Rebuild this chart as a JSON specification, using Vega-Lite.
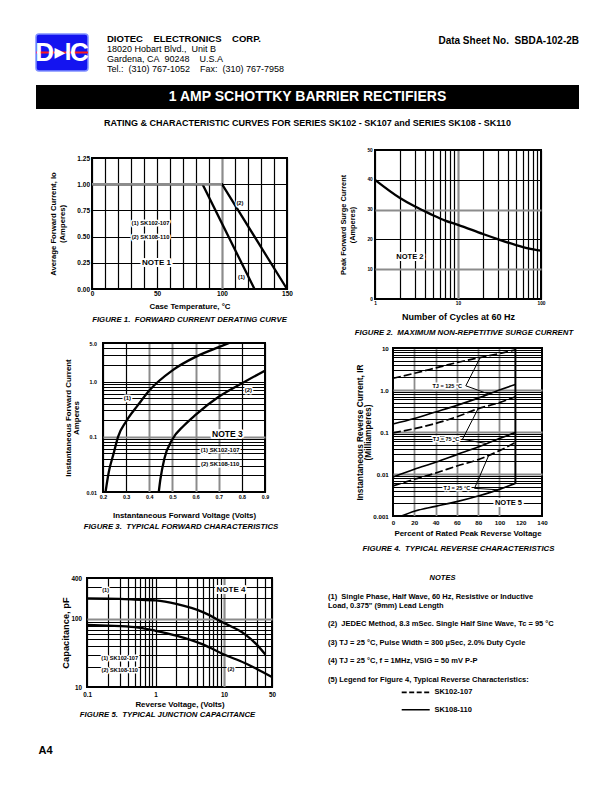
{
"$schema": "https://vega.github.io/schema/vega-lite/v6.json",
"background": "white",
"padding": {"left": 34, "top": 33, "right": 0, "bottom": 0},
"config": {
  "font": "Liberation Sans",
  "view": {"stroke": null},
  "concat": {"spacing": 0},
  "axis": {"domain": false, "ticks": false, "labelFont": "Liberation Sans", "labelFontWeight": "bold", "labelColor": "black", "titleFont": "Liberation Sans", "titleFontWeight": "bold", "titleColor": "black", "grid": true, "gridColor": "black", "gridWidth": 1.2, "gridOpacity": 1, "labelOverlap": false, "labelFlush": false, "labelBound": false},
  "title": {"font": "Liberation Sans", "color": "black"},
  "text": {"font": "Liberation Sans", "color": "black"},
  "legend": {"padding": 0}
},
"spacing": 0,
"resolve": {"scale": {"strokeDash": "independent"}, "legend": {"strokeDash": "independent"}},
"vconcat": [
  {"spacing": 17, "hconcat": [
    {"width": 52, "height": 37, "view": {"fill": "#1414f0", "stroke": "#8090ff", "strokeWidth": 1.5, "cornerRadius": 3},
     "layer": [
      {"data": {"values": [{"k": 1}]}, "mark": {"type": "rule", "color": "#ff1a1a", "strokeWidth": 2}, "encoding": {"y": {"datum": 0.5, "type": "quantitative", "scale": {"domain": [0, 1]}, "axis": null}}},
      {"data": {"values": [{"slot": "a", "t": "D"}, {"slot": "c", "t": "C"}]}, "mark": {"type": "text", "color": "white", "fontSize": 26, "fontWeight": "bold"}, "encoding": {"x": {"field": "slot", "type": "ordinal", "scale": {"domain": ["a", "b", "c"]}, "axis": null}, "text": {"field": "t"}}},
      {"data": {"values": [{"slot": "b", "t": "▶"}]}, "mark": {"type": "text", "color": "white", "fontSize": 14, "font": "DejaVu Sans", "dx": -2}, "encoding": {"x": {"field": "slot", "type": "ordinal", "axis": null}, "text": {"field": "t"}}},
      {"data": {"values": [{"slot": "b", "t": "I"}]}, "mark": {"type": "text", "color": "white", "fontSize": 24, "fontWeight": "bold", "dx": 6}, "encoding": {"x": {"field": "slot", "type": "ordinal", "axis": null}, "text": {"field": "t"}}}
     ]},
    {"width": 250, "height": 40,
     "data": {"values": [
       {"line": 0, "text": "DIOTEC\u00a0\u00a0\u00a0\u00a0ELECTRONICS\u00a0\u00a0\u00a0\u00a0CORP."},
       {"line": 1, "text": "18020 Hobart Blvd.,\u00a0 Unit B"},
       {"line": 2, "text": "Gardena, CA\u00a0 90248\u00a0\u00a0\u00a0 U.S.A"},
       {"line": 3, "text": "Tel.:\u00a0 (310) 767-1052\u00a0\u00a0\u00a0 Fax:\u00a0 (310) 767-7958"}]},
     "encoding": {"y": {"field": "line", "type": "ordinal", "axis": null}, "x": {"value": 0}, "text": {"field": "text"}},
     "layer": [
       {"transform": [{"filter": "datum.line == 0"}], "mark": {"type": "text", "align": "left", "fontSize": 9.5, "fontWeight": "bold"}},
       {"transform": [{"filter": "datum.line > 0"}], "mark": {"type": "text", "align": "left", "fontSize": 9}}
     ]},
    {"width": 205, "height": 14, "data": {"values": [{"t": "Data Sheet No.\u00a0 SBDA-102-2B"}]},
     "mark": {"type": "text", "align": "right", "fontSize": 10, "fontWeight": "bold"},
     "encoding": {"x": {"value": "width"}, "text": {"field": "t"}}}
  ]},
  {"width": 1, "height": 11, "mark": "rect", "data": {"values": []}},
  {"width": 543, "height": 24, "view": {"fill": "black", "stroke": null},
   "title": {"text": "RATING & CHARACTERISTIC CURVES FOR SERIES SK102 - SK107 and SERIES SK108 - SK110", "orient": "bottom", "anchor": "middle", "baseline": "top", "offset": 9.65, "fontSize": 9, "fontWeight": "bold"},
   "data": {"values": [{"t": "1 AMP SCHOTTKY BARRIER RECTIFIERS"}]},
   "mark": {"type": "text", "color": "white", "fontSize": 14, "fontWeight": "bold"},
   "encoding": {"text": {"field": "t"}}},
  {"width": 1, "height": 17.95, "mark": "rect", "data": {"values": []}},
  {"spacing": 0, "hconcat": [
    {"width": 11.7, "height": 1, "mark": "rect", "data": {"values": []}},
    {"spacing": 0, "vconcat": [
      {"width": 1, "height": 3.75, "mark": "rect", "data": {"values": []}},
      {"width": 195, "height": 131, "view": {"stroke": "black", "strokeWidth": 2},
       "title": {"text": "FIGURE 1.\u00a0 FORWARD CURRENT DERATING CURVE", "orient": "bottom", "anchor": "middle", "baseline": "top", "offset": 5.5, "fontSize": 7.8, "fontWeight": "bold", "fontStyle": "italic"},
       "encoding": {
         "x": {"field": "temp", "type": "quantitative", "scale": {"domain": [0, 150], "nice": false, "zero": false},
               "axis": {"title": "Case Temperature, °C", "values": [0,10,20,30,40,50,60,70,80,90,100,110,120,130,140,150], "labelExpr": "datum.value % 50 == 0 ? datum.label : ''", "labelFontSize": 6.5, "labelPadding": 1.2, "titleFontSize": 7.85, "titlePadding": 6.2,
                        "gridColor": {"condition": {"test": "datum.value == 100", "value": "#8c8c8c"}, "value": "black"},
                        "gridWidth": {"condition": {"test": "datum.value == 100", "value": 2.2}, "value": 1.2}}},
         "y": {"field": "io", "type": "quantitative", "scale": {"domain": [0, 1.25], "nice": false},
               "axis": {"title": ["Average Forward Current, Io", "(Amperes)"], "values": [0, 0.25, 0.5, 0.75, 1, 1.25], "format": ".2f", "labelFontSize": 6.5, "labelPadding": 2.5, "titleFontSize": 7.7, "titleLineHeight": 8.4, "titlePadding": 10.5}}
       },
       "layer": [
         {"data": {"values": [
           {"series": "(1)", "temp": 0, "io": 1}, {"series": "(1)", "temp": 85, "io": 1}, {"series": "(1)", "temp": 125, "io": 0},
           {"series": "(2)", "temp": 0, "io": 1}, {"series": "(2)", "temp": 100, "io": 1}, {"series": "(2)", "temp": 150, "io": 0}]},
          "mark": {"type": "line", "color": "black", "strokeWidth": 2.3}, "encoding": {"detail": {"field": "series"}}},
         {"data": {"values": [{"temp": 0, "io": 1}, {"temp": 100, "io": 1}]},
          "mark": {"type": "line", "color": "#8c8c8c", "strokeWidth": 2.4}},
         {"data": {"values": [
           {"label": "(1) SK102-107", "temp": 45, "io": 0.627, "kind": "small"},
           {"label": "(2) SK108-110", "temp": 45, "io": 0.5, "kind": "small"},
           {"label": "NOTE 1", "temp": 49.6, "io": 0.25, "kind": "note"},
           {"label": "(2)", "temp": 113.8, "io": 0.823, "kind": "small"},
           {"label": "(1)", "temp": 115, "io": 0.115, "kind": "small"}]},
          "layer": [
           {"transform": [{"filter": "datum.kind == 'small'"}], "mark": {"type": "text", "fontSize": 5.8, "fontWeight": "bold", "color": "white", "stroke": "white", "strokeWidth": 3, "strokeJoin": "round"}, "encoding": {"text": {"field": "label"}}},
           {"transform": [{"filter": "datum.kind == 'small'"}], "mark": {"type": "text", "fontSize": 5.8, "fontWeight": "bold", "color": "black"}, "encoding": {"text": {"field": "label"}}},
           {"transform": [{"filter": "datum.kind == 'note'"}], "mark": {"type": "text", "fontSize": 8, "fontWeight": "bold", "color": "white", "stroke": "white", "strokeWidth": 4, "strokeJoin": "round"}, "encoding": {"text": {"field": "label"}}},
           {"transform": [{"filter": "datum.kind == 'note'"}], "mark": {"type": "text", "fontSize": 8, "fontWeight": "bold", "color": "black"}, "encoding": {"text": {"field": "label"}}}
          ]}
       ]}
    ]},
    {"width": 43.2, "height": 1, "mark": "rect", "data": {"values": []}},
    {"width": 166, "height": 149, "view": {"stroke": "black", "strokeWidth": 2},
     "title": {"text": "FIGURE 2.\u00a0 MAXIMUM NON-REPETITIVE SURGE CURRENT", "orient": "bottom", "anchor": "middle", "baseline": "top", "offset": 7.5, "dx": 6, "fontSize": 7.8, "fontWeight": "bold", "fontStyle": "italic"},
     "encoding": {
       "x": {"field": "cycles", "type": "quantitative", "scale": {"type": "log", "domain": [1, 100], "nice": false},
             "axis": {"title": "Number of Cycles at 60 Hz", "values": [1,2,3,4,5,6,7,8,9,10,20,30,40,50,60,70,80,90,100], "labelExpr": "datum.value == 1 ? '1' : datum.value == 10 ? '10' : datum.value == 100 ? '100' : ''", "labelFontSize": 4.8, "labelPadding": 1.55, "titleFontSize": 9, "titlePadding": 6.8,
                      "gridColor": {"condition": {"test": "datum.value == 10", "value": "#8c8c8c"}, "value": "black"},
                      "gridWidth": {"condition": {"test": "datum.value == 10", "value": 2.2}, "value": 1.2}}},
       "y": {"field": "amps", "type": "quantitative", "scale": {"domain": [0, 50], "nice": false},
             "axis": {"title": ["Peak Forward Surge Current", "(Amperes)"], "values": [0, 10, 20, 30, 40, 50], "labelFontSize": 4.8, "labelPadding": 2.7, "titleFontSize": 7.4, "titleLineHeight": 9.3, "titlePadding": 10.5,
                      "gridColor": {"condition": {"test": "datum.value == 10 || datum.value == 30", "value": "#8c8c8c"}, "value": "black"},
                      "gridWidth": {"condition": {"test": "datum.value == 10 || datum.value == 30", "value": 1.8}, "value": 1.2}}}
     },
     "layer": [
       {"data": {"values": [
         {"cycles": 1, "amps": 40}, {"cycles": 2, "amps": 33.9}, {"cycles": 3, "amps": 31.1}, {"cycles": 4, "amps": 29.4},
         {"cycles": 5, "amps": 28.1}, {"cycles": 7, "amps": 26.3}, {"cycles": 10, "amps": 24.9}, {"cycles": 20, "amps": 21.8},
         {"cycles": 30, "amps": 20.1}, {"cycles": 50, "amps": 18.1}, {"cycles": 70, "amps": 17}, {"cycles": 100, "amps": 16.2}]},
        "mark": {"type": "line", "color": "black", "strokeWidth": 2.3, "interpolate": "monotone"}},
       {"data": {"values": [{"label": "NOTE 2", "cycles": 2.63, "amps": 14.1}]},
        "layer": [
          {"mark": {"type": "text", "fontSize": 7.5, "fontWeight": "bold", "color": "white", "stroke": "white", "strokeWidth": 4, "strokeJoin": "round"}, "encoding": {"text": {"field": "label"}}},
          {"mark": {"type": "text", "fontSize": 7.5, "fontWeight": "bold", "color": "black"}, "encoding": {"text": {"field": "label"}}}
        ]}
     ]}
  ]},
  {"width": 1, "height": 1.75, "mark": "rect", "data": {"values": []}},
  {"spacing": 0, "hconcat": [
    {"width": 26.6, "height": 1, "mark": "rect", "data": {"values": []}},
    {"width": 162, "height": 149, "view": {"stroke": "black", "strokeWidth": 2},
     "title": {"text": "FIGURE 3.\u00a0 TYPICAL FORWARD CHARACTERISTICS", "orient": "bottom", "anchor": "middle", "baseline": "top", "offset": 3.86, "dx": -3, "fontSize": 7.8, "fontWeight": "bold", "fontStyle": "italic"},
     "encoding": {
       "x": {"field": "volts", "type": "quantitative", "scale": {"domain": [0.2, 0.9], "nice": false, "zero": false},
             "axis": {"title": "Instantaneous Forward Voltage (Volts)", "values": [0.2,0.3,0.4,0.5,0.6,0.7,0.8,0.9], "format": ".1f", "labelFontSize": 5.3, "labelPadding": 2.7, "titleFontSize": 7.9, "titlePadding": 11.3,
                      "gridColor": {"condition": {"test": "datum.value > 0.35 && datum.value < 0.75", "value": "#8c8c8c"}, "value": "black"},
                      "gridWidth": {"condition": {"test": "datum.value > 0.35 && datum.value < 0.75", "value": 2}, "value": 1.2}}},
       "y": {"field": "amps", "type": "quantitative", "scale": {"type": "log", "domain": [0.01, 5], "nice": false},
             "axis": {"title": ["Instantaneous Forward Current", "Amperes"], "values": [0.01,0.02,0.03,0.04,0.05,0.06,0.07,0.08,0.09,0.1,0.2,0.3,0.4,0.5,0.6,0.7,0.8,0.9,1,2,3,4,5], "labelExpr": "datum.value == 5 ? '5.0' : datum.value == 1 ? '1.0' : datum.value == 0.1 ? '0.1' : datum.value == 0.01 ? '0.01' : ''", "labelFontSize": 5.3, "labelPadding": 6.6, "titleFontSize": 7.9, "titleLineHeight": 8, "titlePadding": 5.2,
                      "gridColor": {"condition": {"test": "datum.value == 0.1", "value": "#8c8c8c"}, "value": "black"},
                      "gridWidth": {"condition": {"test": "datum.value == 0.1", "value": 2}, "value": 1.2}}}
     },
     "layer": [
       {"data": {"values": [
         {"series": "(1)", "volts": 0.211, "amps": 0.01}, {"series": "(1)", "volts": 0.225, "amps": 0.023}, {"series": "(1)", "volts": 0.246, "amps": 0.05},
         {"series": "(1)", "volts": 0.265, "amps": 0.1}, {"series": "(1)", "volts": 0.3, "amps": 0.19}, {"series": "(1)", "volts": 0.35, "amps": 0.37},
         {"series": "(1)", "volts": 0.4, "amps": 0.69}, {"series": "(1)", "volts": 0.5, "amps": 1.6}, {"series": "(1)", "volts": 0.6, "amps": 2.8},
         {"series": "(1)", "volts": 0.7, "amps": 4.2}, {"series": "(1)", "volts": 0.745, "amps": 5},
         {"series": "(2)", "volts": 0.441, "amps": 0.01}, {"series": "(2)", "volts": 0.448, "amps": 0.017}, {"series": "(2)", "volts": 0.465, "amps": 0.04},
         {"series": "(2)", "volts": 0.5, "amps": 0.09}, {"series": "(2)", "volts": 0.55, "amps": 0.16}, {"series": "(2)", "volts": 0.6, "amps": 0.25},
         {"series": "(2)", "volts": 0.7, "amps": 0.53}, {"series": "(2)", "volts": 0.8, "amps": 0.93}, {"series": "(2)", "volts": 0.9, "amps": 1.58}]},
        "mark": {"type": "line", "color": "black", "strokeWidth": 2.3, "interpolate": "monotone", "clip": true}, "encoding": {"detail": {"field": "series"}}},
       {"data": {"values": [
         {"label": "(1)", "volts": 0.305, "amps": 0.51, "kind": "small"},
         {"label": "(2)", "volts": 0.828, "amps": 0.71, "kind": "small"},
         {"label": "NOTE 3", "volts": 0.7376, "amps": 0.112, "kind": "note"},
         {"label": "(1) SK102-107", "volts": 0.706, "amps": 0.0566, "kind": "small"},
         {"label": "(2) SK108-110", "volts": 0.706, "amps": 0.0325, "kind": "small"}]},
        "layer": [
          {"transform": [{"filter": "datum.kind == 'small'"}], "mark": {"type": "text", "fontSize": 5.9, "fontWeight": "bold", "color": "white", "stroke": "white", "strokeWidth": 3, "strokeJoin": "round"}, "encoding": {"text": {"field": "label"}}},
          {"transform": [{"filter": "datum.kind == 'small'"}], "mark": {"type": "text", "fontSize": 5.9, "fontWeight": "bold", "color": "black"}, "encoding": {"text": {"field": "label"}}},
          {"transform": [{"filter": "datum.kind == 'note'"}], "mark": {"type": "text", "fontSize": 8.5, "fontWeight": "bold", "color": "white", "stroke": "white", "strokeWidth": 4, "strokeJoin": "round"}, "encoding": {"text": {"field": "label"}}},
          {"transform": [{"filter": "datum.kind == 'note'"}], "mark": {"type": "text", "fontSize": 8.5, "fontWeight": "bold", "color": "black"}, "encoding": {"text": {"field": "label"}}}
        ]}
     ]},
    {"width": 73.6, "height": 1, "mark": "rect", "data": {"values": []}},
    {"spacing": 0, "vconcat": [
      {"width": 1, "height": 0.1, "mark": "rect", "data": {"values": []}},
      {"width": 149, "height": 168, "view": {"stroke": "black", "strokeWidth": 2},
       "title": {"text": "FIGURE 4.\u00a0 TYPICAL REVERSE CHARACTERISTICS", "orient": "bottom", "anchor": "middle", "baseline": "top", "offset": 8.1, "dx": -9, "fontSize": 7.8, "fontWeight": "bold", "fontStyle": "italic"},
       "encoding": {
         "x": {"field": "pct", "type": "quantitative", "scale": {"domain": [0, 140], "nice": false, "zero": false},
               "axis": {"title": "Percent of Rated Peak Reverse Voltage", "values": [0,20,40,60,80,100,120,140], "labelFontSize": 6.2, "labelPadding": 3.35, "titleFontSize": 7.95, "titlePadding": 3.65,
                        "gridColor": {"condition": {"test": "datum.value == 0 || datum.value >= 120", "value": "transparent"}, "value": "#8c8c8c"},
                        "gridWidth": 1.8}},
         "y": {"field": "ir", "type": "quantitative", "scale": {"type": "log", "domain": [0.001, 10], "nice": false},
               "axis": {"title": ["Instantaneous Reverse Current, IR", "(Milliamperes)"], "values": [0.001,0.002,0.003,0.004,0.005,0.006,0.007,0.008,0.009,0.01,0.02,0.03,0.04,0.05,0.06,0.07,0.08,0.09,0.1,0.2,0.3,0.4,0.5,0.6,0.7,0.8,0.9,1,2,3,4,5,6,7,8,9,10], "labelExpr": "datum.value == 10 ? '10' : datum.value == 1 ? '1.0' : datum.value == 0.1 ? '0.1' : datum.value == 0.01 ? '0.01' : datum.value == 0.001 ? '0.001' : ''", "labelFontSize": 6.2, "labelPadding": 4.7, "titleFontSize": 8.3, "titleLineHeight": 8.7, "titlePadding": 0,
                        "gridColor": {"condition": {"test": "datum.value == 0.01 || datum.value == 0.1 || datum.value == 1", "value": "#8c8c8c"}, "value": "black"},
                        "gridWidth": {"condition": {"test": "datum.value == 0.01 || datum.value == 0.1 || datum.value == 1", "value": 1.8}, "value": 1}}}
       },
       "layer": [
         {"data": {"values": [
           {"curve": "d125", "kind": "SK102-107", "pct": 0, "ir": 1.9}, {"curve": "d125", "kind": "SK102-107", "pct": 20, "ir": 2.5}, {"curve": "d125", "kind": "SK102-107", "pct": 40, "ir": 3.35}, {"curve": "d125", "kind": "SK102-107", "pct": 60, "ir": 4.5}, {"curve": "d125", "kind": "SK102-107", "pct": 80, "ir": 5.8}, {"curve": "d125", "kind": "SK102-107", "pct": 100, "ir": 7.4}, {"curve": "d125", "kind": "SK102-107", "pct": 115, "ir": 9},
           {"curve": "s125", "kind": "SK108-110", "pct": 0, "ir": 0.155}, {"curve": "s125", "kind": "SK108-110", "pct": 20, "ir": 0.21}, {"curve": "s125", "kind": "SK108-110", "pct": 40, "ir": 0.3}, {"curve": "s125", "kind": "SK108-110", "pct": 60, "ir": 0.43}, {"curve": "s125", "kind": "SK108-110", "pct": 80, "ir": 0.64}, {"curve": "s125", "kind": "SK108-110", "pct": 100, "ir": 1}, {"curve": "s125", "kind": "SK108-110", "pct": 115, "ir": 1.35},
           {"curve": "d75", "kind": "SK102-107", "pct": 0, "ir": 0.095}, {"curve": "d75", "kind": "SK102-107", "pct": 20, "ir": 0.12}, {"curve": "d75", "kind": "SK102-107", "pct": 40, "ir": 0.16}, {"curve": "d75", "kind": "SK102-107", "pct": 60, "ir": 0.23}, {"curve": "d75", "kind": "SK102-107", "pct": 80, "ir": 0.36}, {"curve": "d75", "kind": "SK102-107", "pct": 100, "ir": 0.5}, {"curve": "d75", "kind": "SK102-107", "pct": 115, "ir": 0.69},
           {"curve": "s75", "kind": "SK108-110", "pct": 0, "ir": 0.0085}, {"curve": "s75", "kind": "SK108-110", "pct": 20, "ir": 0.013}, {"curve": "s75", "kind": "SK108-110", "pct": 40, "ir": 0.019}, {"curve": "s75", "kind": "SK108-110", "pct": 60, "ir": 0.029}, {"curve": "s75", "kind": "SK108-110", "pct": 80, "ir": 0.044}, {"curve": "s75", "kind": "SK108-110", "pct": 100, "ir": 0.07}, {"curve": "s75", "kind": "SK108-110", "pct": 115, "ir": 0.097},
           {"curve": "d25", "kind": "SK102-107", "pct": 0, "ir": 0.0052}, {"curve": "d25", "kind": "SK102-107", "pct": 20, "ir": 0.0075}, {"curve": "d25", "kind": "SK102-107", "pct": 40, "ir": 0.0105}, {"curve": "d25", "kind": "SK102-107", "pct": 60, "ir": 0.0155}, {"curve": "d25", "kind": "SK102-107", "pct": 80, "ir": 0.022}, {"curve": "d25", "kind": "SK102-107", "pct": 100, "ir": 0.036}, {"curve": "d25", "kind": "SK102-107", "pct": 115, "ir": 0.056},
           {"curve": "s25", "kind": "SK108-110", "pct": 8, "ir": 0.001}, {"curve": "s25", "kind": "SK108-110", "pct": 20, "ir": 0.0013}, {"curve": "s25", "kind": "SK108-110", "pct": 40, "ir": 0.0017}, {"curve": "s25", "kind": "SK108-110", "pct": 60, "ir": 0.0022}, {"curve": "s25", "kind": "SK108-110", "pct": 80, "ir": 0.003}, {"curve": "s25", "kind": "SK108-110", "pct": 100, "ir": 0.0043}, {"curve": "s25", "kind": "SK108-110", "pct": 115, "ir": 0.006}]},
          "layer": [
            {"transform": [{"filter": "datum.kind == 'SK102-107'"}], "mark": {"type": "line", "color": "black", "strokeWidth": 1.7, "strokeDash": [8, 3], "interpolate": "monotone"}, "encoding": {"detail": {"field": "curve"}}},
            {"transform": [{"filter": "datum.kind == 'SK108-110'"}], "mark": {"type": "line", "color": "black", "strokeWidth": 1.7, "interpolate": "monotone"}, "encoding": {"detail": {"field": "curve"}}}
          ]},
         {"data": {"values": [{"pct": 115, "ir": 0.006, "ir2": 10}]},
          "mark": {"type": "rule", "color": "black", "strokeWidth": 2}, "encoding": {"y2": {"field": "ir2"}}},
         {"data": {"values": [
           {"pct": 68.4, "ir": 1.26, "pct2": 82, "ir2": 5.95}, {"pct": 68.4, "ir": 1.26, "pct2": 90, "ir2": 0.8},
           {"pct": 65.3, "ir": 0.0673, "pct2": 80, "ir2": 0.36}, {"pct": 65.3, "ir": 0.0673, "pct2": 88, "ir2": 0.053},
           {"pct": 76.6, "ir": 0.00456, "pct2": 90, "ir2": 0.028}, {"pct": 76.6, "ir": 0.00456, "pct2": 99, "ir2": 0.0042}]},
          "mark": {"type": "rule", "color": "black", "strokeWidth": 1}, "encoding": {"x2": {"field": "pct2"}, "y2": {"field": "ir2"}}},
         {"data": {"values": [
           {"label": "TJ = 125 °C", "pct": 51, "ir": 1.26, "kind": "small"},
           {"label": "TJ = 75 °C", "pct": 49.8, "ir": 0.0673, "kind": "small"},
           {"label": "TJ = 25 °C", "pct": 60, "ir": 0.00456, "kind": "small"},
           {"label": "NOTE 5", "pct": 108.5, "ir": 0.002, "kind": "note"}]},
          "layer": [
            {"transform": [{"filter": "datum.kind == 'small'"}], "mark": {"type": "text", "fontSize": 5.5, "fontWeight": "bold", "color": "white", "stroke": "white", "strokeWidth": 3, "strokeJoin": "round"}, "encoding": {"text": {"field": "label"}}},
            {"transform": [{"filter": "datum.kind == 'small'"}], "mark": {"type": "text", "fontSize": 5.5, "fontWeight": "bold", "color": "black"}, "encoding": {"text": {"field": "label"}}},
            {"transform": [{"filter": "datum.kind == 'note'"}], "mark": {"type": "text", "fontSize": 7.5, "fontWeight": "bold", "color": "white", "stroke": "white", "strokeWidth": 4, "strokeJoin": "round"}, "encoding": {"text": {"field": "label"}}},
            {"transform": [{"filter": "datum.kind == 'note'"}], "mark": {"type": "text", "fontSize": 7.5, "fontWeight": "bold", "color": "black"}, "encoding": {"text": {"field": "label"}}}
          ]}
       ]}
    ]}
  ]},
  {"width": 1, "height": 18.5, "mark": "rect", "data": {"values": []}},
  {"spacing": 0, "resolve": {"scale": {"strokeDash": "independent"}, "legend": {"strokeDash": "independent"}}, "hconcat": [
    {"width": 24, "height": 1, "mark": "rect", "data": {"values": []}},
    {"width": 185, "height": 109, "view": {"stroke": "black", "strokeWidth": 2},
     "title": {"text": "FIGURE 5.\u00a0 TYPICAL JUNCTION CAPACITANCE", "orient": "bottom", "anchor": "middle", "baseline": "top", "offset": 2.16, "dx": -12, "fontSize": 7.8, "fontWeight": "bold", "fontStyle": "italic"},
     "encoding": {
       "x": {"field": "volts", "type": "quantitative", "scale": {"type": "log", "domain": [0.1, 50], "nice": false},
             "axis": {"title": "Reverse Voltage, (Volts)", "values": [0.1,0.2,0.3,0.4,0.5,0.6,0.7,0.8,0.9,1,2,3,4,5,6,7,8,9,10,20,30,40,50], "labelExpr": "datum.value == 0.1 ? '0.1' : datum.value == 1 ? '1' : datum.value == 10 ? '10' : datum.value == 50 ? '50' : ''", "labelFontSize": 6.3, "labelPadding": 4.3, "titleFontSize": 7.9, "titlePadding": 3,
                      "gridColor": {"condition": {"test": "datum.value == 10", "value": "#8c8c8c"}, "value": "black"},
                      "gridWidth": {"condition": {"test": "datum.value == 10", "value": 2.2}, "value": 1.2}}},
       "y": {"field": "pf", "type": "quantitative", "scale": {"type": "log", "domain": [10, 400], "nice": false},
             "axis": {"title": "Capacitance, pF", "values": [10,20,30,40,50,60,70,80,90,100,200,300,400], "labelExpr": "datum.value == 400 ? '400' : datum.value == 100 ? '100' : datum.value == 10 ? '10' : ''", "labelFontSize": 6.3, "labelPadding": 5.6, "titleFontSize": 9.3, "titlePadding": 0.2,
                      "gridColor": {"condition": {"test": "datum.value == 100", "value": "#8c8c8c"}, "value": "black"},
                      "gridWidth": {"condition": {"test": "datum.value == 100", "value": 2.2}, "value": 1.2}}}
     },
     "layer": [
       {"data": {"values": [
         {"series": "(1)", "volts": 0.1, "pf": 200}, {"series": "(1)", "volts": 0.3, "pf": 197}, {"series": "(1)", "volts": 0.5, "pf": 193}, {"series": "(1)", "volts": 1, "pf": 187},
         {"series": "(1)", "volts": 2, "pf": 166}, {"series": "(1)", "volts": 5, "pf": 125}, {"series": "(1)", "volts": 10, "pf": 87}, {"series": "(1)", "volts": 20, "pf": 60},
         {"series": "(1)", "volts": 30, "pf": 42}, {"series": "(1)", "volts": 40, "pf": 30},
         {"series": "(2)", "volts": 0.1, "pf": 82}, {"series": "(2)", "volts": 0.2, "pf": 80}, {"series": "(2)", "volts": 0.5, "pf": 76}, {"series": "(2)", "volts": 1, "pf": 67},
         {"series": "(2)", "volts": 2, "pf": 57}, {"series": "(2)", "volts": 5, "pf": 42}, {"series": "(2)", "volts": 10, "pf": 30}, {"series": "(2)", "volts": 20, "pf": 22.5},
         {"series": "(2)", "volts": 30, "pf": 18.4}, {"series": "(2)", "volts": 50, "pf": 14}]},
        "mark": {"type": "line", "color": "black", "strokeWidth": 2.3, "interpolate": "monotone"}, "encoding": {"detail": {"field": "series"}}},
       {"data": {"values": [
         {"label": "(1)", "volts": 0.187, "pf": 269, "kind": "small"},
         {"label": "NOTE 4", "volts": 12.6, "pf": 269, "kind": "note"},
         {"label": "(1) SK102-107", "volts": 0.3, "pf": 26.7, "kind": "small"},
         {"label": "(2) SK108-110", "volts": 0.3, "pf": 17.9, "kind": "small"},
         {"label": "(2)", "volts": 12.6, "pf": 18.7, "kind": "small"}]},
        "layer": [
          {"transform": [{"filter": "datum.kind == 'small'"}], "mark": {"type": "text", "fontSize": 5.6, "fontWeight": "bold", "color": "white", "stroke": "white", "strokeWidth": 3, "strokeJoin": "round"}, "encoding": {"text": {"field": "label"}}},
          {"transform": [{"filter": "datum.kind == 'small'"}], "mark": {"type": "text", "fontSize": 5.6, "fontWeight": "bold", "color": "black"}, "encoding": {"text": {"field": "label"}}},
          {"transform": [{"filter": "datum.kind == 'note'"}], "mark": {"type": "text", "fontSize": 8, "fontWeight": "bold", "color": "white", "stroke": "white", "strokeWidth": 4, "strokeJoin": "round"}, "encoding": {"text": {"field": "label"}}},
          {"transform": [{"filter": "datum.kind == 'note'"}], "mark": {"type": "text", "fontSize": 8, "fontWeight": "bold", "color": "black"}, "encoding": {"text": {"field": "label"}}}
        ]}
     ]},
    {"width": 49.1, "height": 1, "mark": "rect", "data": {"values": []}},
    {"width": 229, "height": 129.2,
     "layer": [
       {"data": {"values": [{"line": -2, "text": "NOTES"}]},
        "mark": {"type": "text", "fontSize": 7.5, "fontWeight": "bold", "fontStyle": "italic", "baseline": "middle"},
        "encoding": {"y": {"field": "line", "type": "quantitative", "scale": {"domain": [-2.04, 12], "reverse": true, "nice": false, "zero": false}, "axis": null}, "text": {"field": "text"}}},
       {"data": {"values": [
         {"line": 0, "text": "(1)\u00a0 Single Phase, Half Wave, 60 Hz, Resistive or Inductive"},
         {"line": 1, "text": "\u00a0\u00a0\u00a0\u00a0\u2009Load, 0.375\" (9mm) Lead Length"},
         {"line": 3, "text": "(2)\u00a0 JEDEC Method, 8.3 mSec. Single Half Sine Wave, Tc = 95 °C"},
         {"line": 5, "text": "(3) TJ = 25 °C, Pulse Width = 300 µSec, 2.0% Duty Cycle"},
         {"line": 7, "text": "(4) TJ = 25 °C, f = 1MHz, VSIG = 50 mV P-P"},
         {"line": 9, "text": "(5) Legend for Figure 4, Typical Reverse Characteristics:"}]},
        "mark": {"type": "text", "fontSize": 7.5, "fontWeight": "bold", "align": "left", "baseline": "middle"},
        "encoding": {"x": {"value": 0}, "y": {"field": "line", "type": "quantitative", "axis": null}, "text": {"field": "text"}}},
       {"data": {"values": [{"series": "SK102-107"}, {"series": "SK108-110"}]},
        "mark": {"type": "point", "size": 0, "opacity": 0},
        "encoding": {"strokeDash": {"field": "series", "type": "nominal",
          "scale": {"domain": ["SK102-107", "SK108-110"], "range": [[5, 2.5], [1, 0]]},
          "legend": {"orient": "none", "legendX": 72.7, "legendY": 106.9, "title": null, "symbolType": "stroke", "symbolSize": 784, "symbolStrokeWidth": 1.6, "symbolStrokeColor": "black", "symbolOpacity": 1, "labelFont": "Liberation Sans", "labelFontSize": 7.5, "labelFontWeight": "bold", "labelColor": "black", "labelOffset": 3.7, "clipHeight": 15, "rowPadding": 2.3, "padding": 0, "offset": 0}}}}
     ]}
  ]},
  {"width": 1, "height": 24.6, "mark": "rect", "data": {"values": []}},
  {"width": 60, "height": 12, "data": {"values": [{"t": "A4"}]},
   "mark": {"type": "text", "fontSize": 11, "fontWeight": "bold", "align": "left", "dx": 2.5},
   "encoding": {"x": {"value": 0}, "text": {"field": "t"}}}
]
}
